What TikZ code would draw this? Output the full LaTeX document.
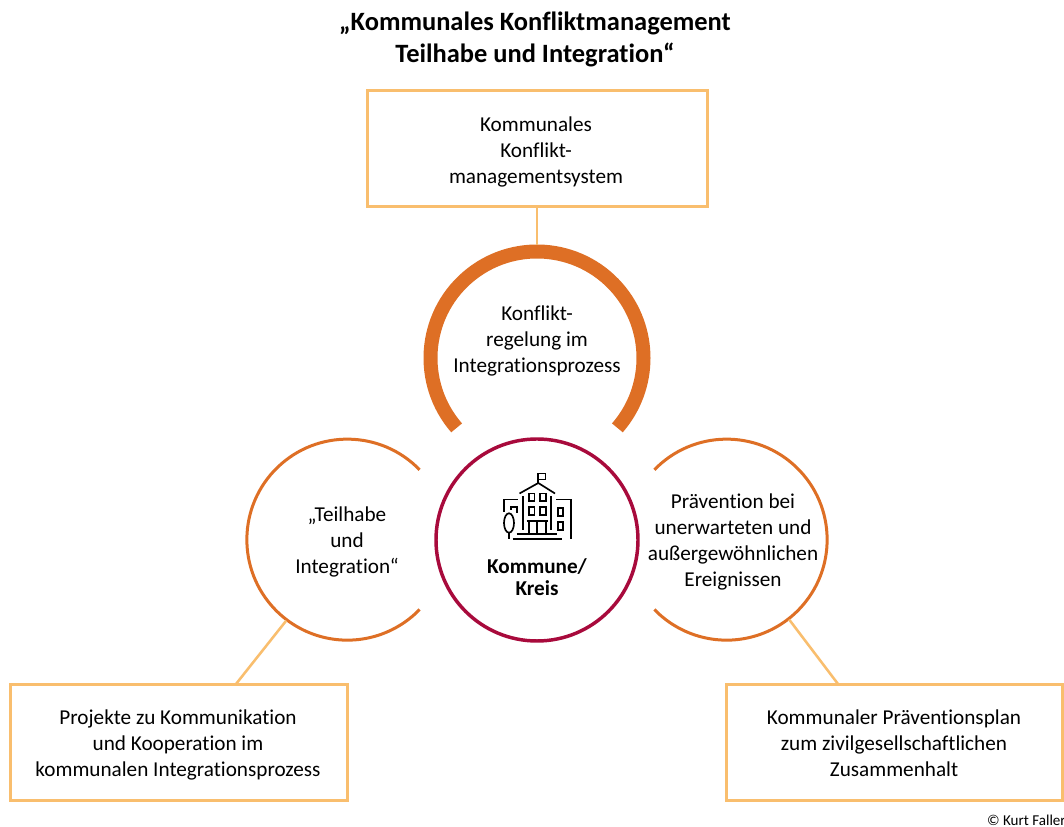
\documentclass[tikz,border=0pt]{standalone}
\usepackage{fontspec}
\setmainfont[Ligatures=NoCommon]{Carlito}
\definecolor{boxorange}{HTML}{F9BE6E}
\definecolor{ringorange}{HTML}{DE6F25}
\definecolor{ringred}{HTML}{A80A3C}
\tikzset{
    bodytext/.style={align=center,inner sep=0pt,font=\fontsize{15.9}{19.5}\selectfont},
    framebox/.style={draw=boxorange,line width=2.25pt,inner sep=0pt},
    ringspot/.style={circle,inner sep=0pt,outer sep=0pt},
    thinring/.style={draw=ringorange,line width=2.25pt},
    stem/.style={draw=boxorange,line width=1.9pt},
    icon/.style={draw=black,line width=1.25pt}
}
\begin{document}
\begin{tikzpicture}[x=0.75pt,y=0.75pt]
        \useasboundingbox (0,0) rectangle (1064,827);
        \fill[white] (0,0) rectangle (1064,827);

        \node[align=center,inner sep=0pt,font=\fontsize{19.85}{24}\selectfont\bfseries] (title) at (535,788) {„Kommunales Konfliktmanagement\\Teilhabe und Integration“};

        \node[framebox,minimum width=255pt,minimum height=87pt] (topbox) at (537,678.5) {};
        \node[framebox,minimum width=253pt,minimum height=87pt] (leftbox) at (179,84.5) {};
        \node[framebox,minimum width=252.5pt,minimum height=87pt] (rightbox) at (894.5,84.5) {};
        \node[bodytext] (toplabel) at (536,675) {Kommunales\\Konflikt-\\managementsystem};
        \node[bodytext] (leftlabel) at (178,82) {Projekte zu Kommunikation\\und Kooperation im\\kommunalen Integrationsprozess};
        \node[bodytext] (rightlabel) at (894,84) {Kommunaler Präventionsplan\\zum zivilgesellschaftlichen\\Zusammenhalt};

        \node[ringspot,minimum size=170pt] (topring) at (537,469) {};
        \node[ringspot,minimum size=151.5pt] (leftring) at (347,287) {};
        \node[ringspot,minimum size=151.5pt] (rightring) at (727,287) {};
        \node[ringspot,draw=ringred,line width=2.6pt,minimum size=151.5pt] (midring) at (537,287) {};

        \node[bodytext] (toptext) at (537,486) {Konflikt-\\regelung im\\Integrationsprozess};
        \node[bodytext] (lefttext) at (347,285.5) {„Teilhabe\\und\\Integration“};
        \node[bodytext] (righttext) at (733,285) {Prävention bei\\unerwarteten und\\außergewöhnlichen\\Ereignissen};
        \node[bodytext,font=\fontsize{15.9}{16.5}\selectfont\bfseries] (midtext) at (537,250) {Kommune/\\Kreis};
        \node[inner sep=0pt,anchor=east,font=\fontsize{11.3}{13}\selectfont] (credit) at (1066,7) {© Kurt Faller};

        % arcs
        \draw[draw=ringorange,line width=10.5pt] (537,469) ++(221:106.5) arc (221:-41:106.5);
        \draw[thinring] (leftring.44) arc (44:316:100.5);
        \draw[thinring] (rightring.136) arc (136:-136:100.5);

        % connectors
        \coordinate (leftfoot) at (236,143);
        \coordinate (rightfoot) at (838,143);
        \draw[stem] (topbox.south) -- (topring.north);
        \draw[stem] (leftfoot) -- (leftring.233);
        \draw[stem] (rightfoot) -- (rightring.308);

        % building
        \draw[icon] (538.3,344) -- (538.3,353.5) -- (545.5,353.5) -- (545.5,347.5) -- (538.3,347.5);
        \draw[icon] (519.5,333.5) -- (538.3,344) -- (555,333.5);
        \draw[icon] (522.7,330.5) -- (522.7,297);
        \draw[icon] (551,330.5) -- (551,297);
        \foreach \wx in {529,540.3} {
            \draw[icon] (\wx,326) rectangle ++(5.4,7.5);
            \draw[icon] (\wx,312.3) rectangle ++(5.4,7.5);
        }
        \draw[icon] (526.7,306) -- (548.3,306);
        \foreach \wx in {529,537,545.7} {
            \draw[icon] (\wx,306) -- (\wx,294);
        }
        \draw[icon] (516.7,292.7) -- (557.3,292.7);
        \draw[icon] (512.7,287.7) -- (561.7,287.7);
        \draw[icon] (504,315.3) -- (504,327.5) -- (518,327.5);
        \draw[icon] (510.7,317) -- (510.7,320.3) -- (516.7,320.3) -- (516.7,314.3);
        \draw[icon] (509,304) ellipse (5 and 9.7);
        \draw[icon] (509,294) -- (509,287.7);
        \draw[icon] (556,327.5) -- (570.7,327.5) -- (570.7,287.5);
        \draw[icon] (558.3,311.3) rectangle ++(5,7.4);
        \draw[icon] (558.3,297.3) rectangle ++(5,7.4);
\end{tikzpicture}
\end{document}
